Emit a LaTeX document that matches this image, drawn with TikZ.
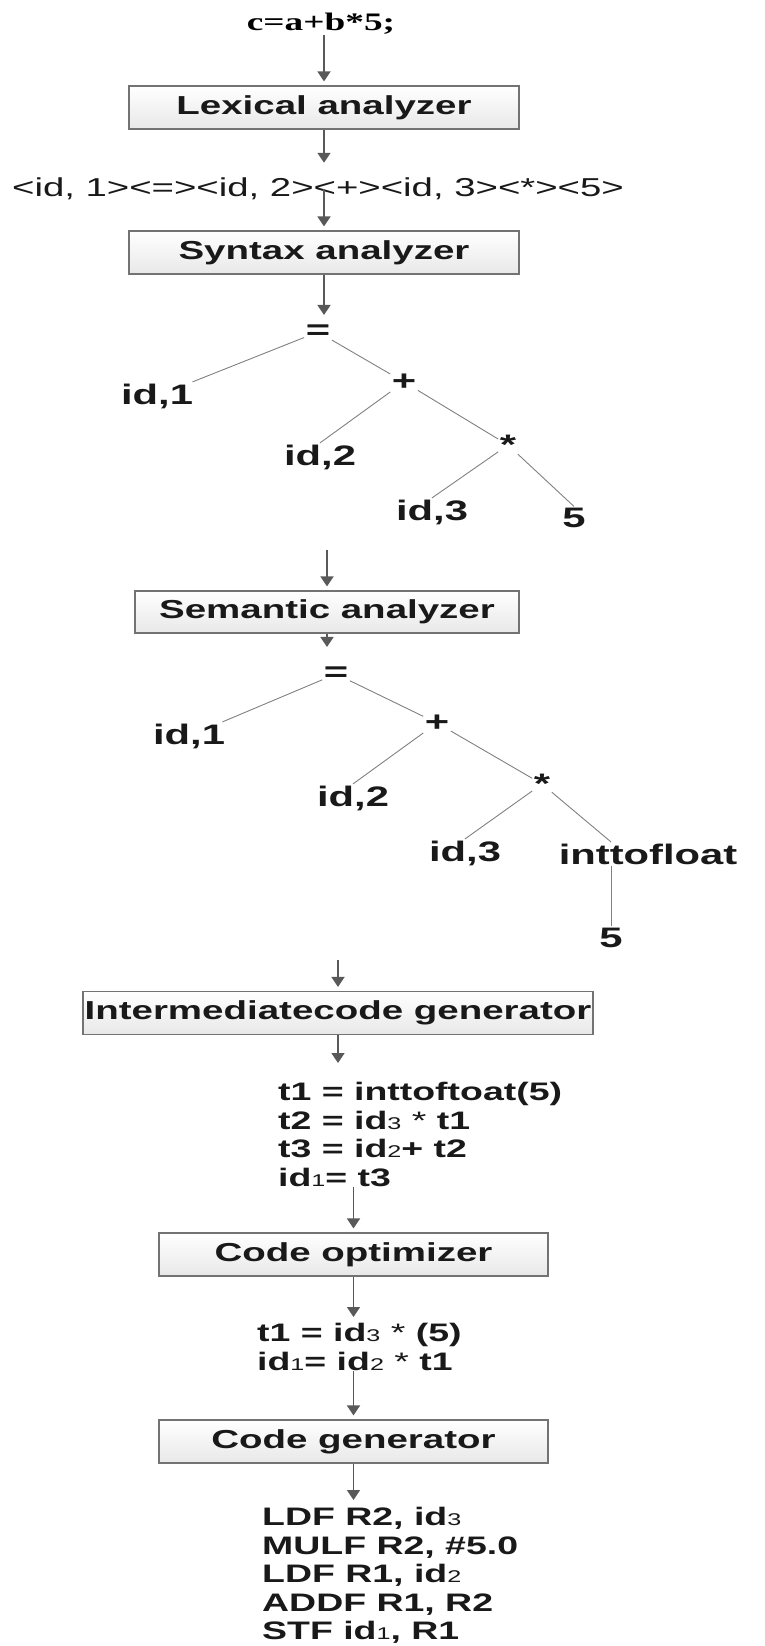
\documentclass[tikz,border=0pt]{standalone}
\usepackage{fontspec}
\setmainfont{Liberation Sans}[FakeStretch=1.48]
\newfontfamily\srcfont{Liberation Serif}[FakeStretch=1.48]
\usetikzlibrary{arrows.meta}

\tikzset{
	stage/.style={draw=black!55, line width=1.2pt, top color=white, bottom color=black!9,
		minimum height=43pt, inner sep=0pt, font=\fontsize{26}{30}\selectfont\bfseries, text=black!90},
	leaf/.style={inner sep=1.5pt, font=\fontsize{28.2}{32}\selectfont\bfseries, text=black!90},
	codeblock/.style={inner sep=0pt, align=left, anchor=north west, text=black!90,
		font=\fontsize{25.3}{28.6}\selectfont\bfseries},
	flow/.style={-{Triangle[length=10pt,width=13pt]}, draw=black!65, line width=1.8pt, shorten >=4pt},
	branch/.style={draw=black!50, line width=0.9pt}
}
\newcommand{\subix}[1]{{\fontsize{17}{17}\selectfont\mdseries #1}}

\begin{document}
\begin{tikzpicture}[x=1pt, y=-1pt]
	\useasboundingbox (0,0) rectangle (764,1646);
	% front end
	\node[inner sep=0pt, text=black, font=\srcfont\fontsize{25.2}{30}\selectfont\bfseries] (src) at (321,24) {c=a+b*5;};
	\node[stage, minimum width=390pt] (lex) at (324,107.5) {Lexical analyzer};
	\node[inner sep=0pt, text=black!90, font=\fontsize{25.9}{30}\selectfont] (tok) at (318,189) {<id, 1><=><id, 2><+><id, 3><*><5>};
	\node[stage, minimum width=390pt] (syn) at (324,252.5) {Syntax analyzer};
	\draw[flow] (lex.north |- src.south) -- (lex.north);
	\draw[flow, shorten >=15pt] (lex.south) -- (lex.south |- tok.north);
	\draw[flow] (syn.north |- tok.center) -- (syn.north);
	% syntax tree
	\node[leaf] (eq1) at (318,332) {=};
	\node[leaf] (id1a) at (157,396) {id,1};
	\node[leaf] (plus1) at (404,382) {+};
	\node[leaf] (id2a) at (320,457) {id,2};
	\node[leaf] (mul1) at (508,445) {*};
	\node[leaf] (id3a) at (432,512) {id,3};
	\node[leaf] (five1) at (574,518) {5};
	\draw[flow, shorten >=8pt] (syn.south) -- (syn.south |- eq1.north);
	\draw[branch] (eq1) -- (id1a);
	\draw[branch] (eq1) -- (plus1);
	\draw[branch] (plus1) -- (id2a.north);
	\draw[branch] (plus1) -- (mul1);
	\draw[branch] (mul1) -- (id3a.north);
	\draw[branch] (mul1) -- (five1.north);
	% semantic analysis
	\coordinate (semin) at (327,550);
	\node[stage, minimum width=384pt, minimum height=42pt] (sem) at (327,612) {Semantic analyzer};
	\draw[flow] (semin) -- (sem.north);
	\node[leaf] (eq2) at (336,674) {=};
	\node[leaf] (id1b) at (189,736) {id,1};
	\node[leaf] (plus2) at (437,723) {+};
	\node[leaf] (id2b) at (353,798) {id,2};
	\node[leaf] (mul2) at (542,784) {*};
	\node[leaf] (id3b) at (465,853) {id,3};
	\node[leaf] (itf) at (648,854) {inttofloat};
	\node[leaf] (five2) at (611,938) {5};
	\draw[flow, shorten >=18pt] (sem.south) -- (sem.south |- eq2.north);
	\draw[branch] (eq2) -- (id1b);
	\draw[branch] (eq2) -- (plus2);
	\draw[branch] (plus2) -- (id2b.north);
	\draw[branch] (plus2) -- (mul2);
	\draw[branch] (mul2) -- (id3b.north);
	\draw[branch] (mul2) -- (five2 |- itf.north);
	\draw[branch] (five2 |- itf.south) -- (five2.north);
	% back end
	\coordinate (icgin) at (338,960);
	\node[stage, minimum width=510pt] (icg) at (338,1013) {Intermediatecode generator};
	\draw[flow] (icgin) -- (icg.north);
	\node[codeblock] (tac) at (278,1082) {t1 = inttoftoat(5)\\ t2 = id\subix{3} {\mdseries*} t1\\ t3 = id\subix{2}+ t2\\ id\subix{1}= t3};
	\draw[flow, shorten >=19pt] (icg.south) -- (icg.south |- tac.north);
	\node[stage, minimum width=389pt] (opt) at (353.5,1254.5) {Code optimizer};
	\draw[flow] (opt.north |- tac.south) -- (opt.north);
	\node[codeblock] (cse) at (257,1323) {t1 = id\subix{3} {\mdseries*} (5)\\ id\subix{1}= id\subix{2} {\mdseries*} t1};
	\draw[flow, shorten >=6pt] (opt.south) -- (opt.south |- cse.north);
	\node[stage, minimum width=389pt] (gen) at (353.5,1441.5) {Code generator};
	\draw[flow] (gen.north |- cse.south) -- (gen.north);
	\node[codeblock] (asm) at (262,1507) {LDF R2, id\subix{3}\\ MULF R2, \#5.0\\ LDF R1, id\subix{2}\\ ADDF R1, R2\\ STF id\subix{1}, R1};
	\draw[flow, shorten >=7pt] (gen.south) -- (gen.south |- asm.north);
\end{tikzpicture}
\end{document}
